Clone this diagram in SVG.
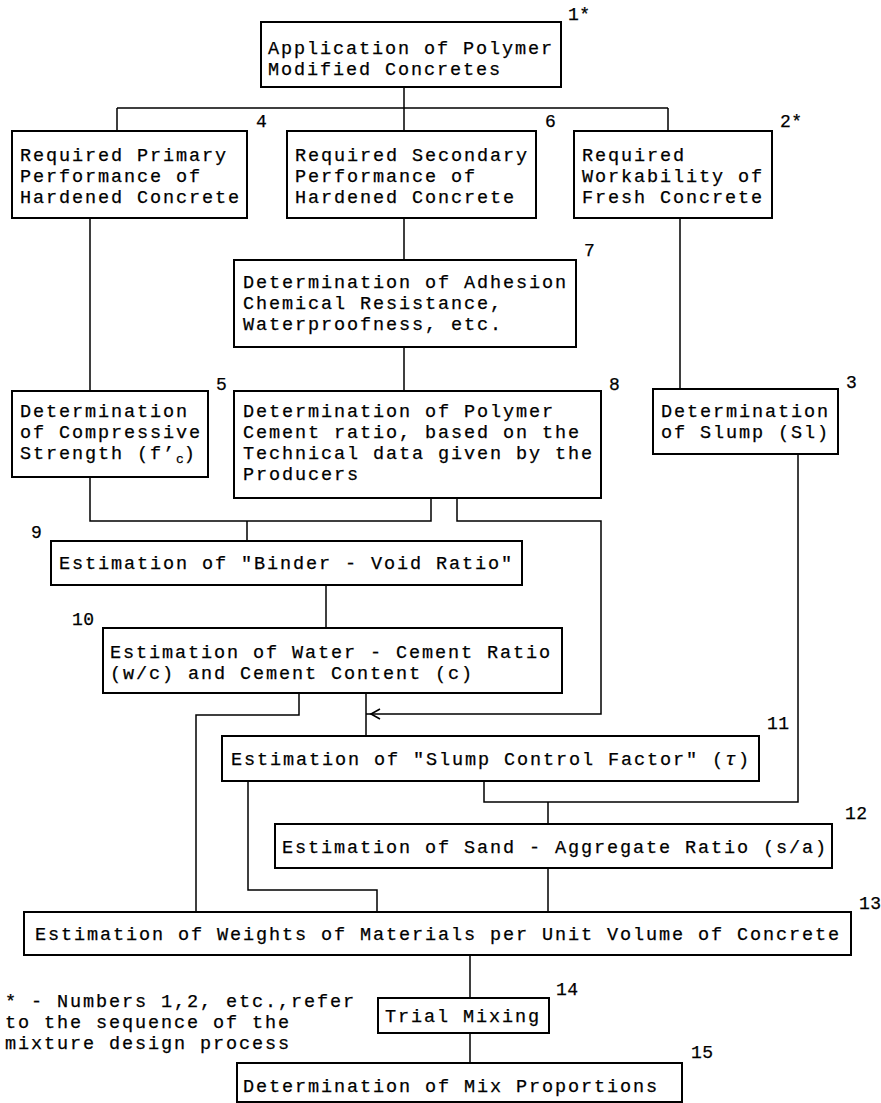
<svg xmlns="http://www.w3.org/2000/svg" width="881" height="1103" viewBox="0 0 881 1103">
<style>
.box{fill:#fff;stroke:#000;stroke-width:2}
.t{font-family:"Liberation Mono","Courier New",monospace;font-size:18.5px;letter-spacing:1.9px;fill:#000;stroke:#000;stroke-width:0.25}
.n{font-family:"Liberation Mono","Courier New",monospace;font-size:18px;letter-spacing:0.5px;fill:#000;stroke:#000;stroke-width:0.25}
.c{fill:none;stroke:#000;stroke-width:1.5}
</style>
<defs>
<marker id="chev" viewBox="0 0 12 12" refX="15" refY="6" markerWidth="12" markerHeight="12" markerUnits="userSpaceOnUse" orient="auto">
<path d="M1,1 L10,6 L1,11" fill="none" stroke="#000" stroke-width="1.6"/>
</marker>
</defs>
<rect width="881" height="1103" fill="#fff"/>
<g id="connectors">
<path class="c" d="M404,87V108M117,108H668M117,108V131M404,108V131M668,108V131"/>
<path class="c" d="M90,218V391M404,218V260M404,347V391M680,218V389"/>
<path class="c" d="M90,477V521H431V498M247,521V541"/>
<path class="c" d="M457,498V521H601V714H366" marker-end="url(#chev)"/>
<path class="c" d="M326,585V628"/>
<path class="c" d="M299,693V715H196V912M366,693V736"/>
<path class="c" d="M248,781V890H377V912"/>
<path class="c" d="M798,454V802H484V781M548,802V824"/>
<path class="c" d="M548,868V912M470,955V998M470,1033V1063"/>
</g>
<g id="n1"><rect class="box" x="261" y="22" width="300" height="65"/>
<text class="t" x="268" y="54">Application of Polymer</text><text class="t" x="268" y="75">Modified Concretes</text>
<text class="n" x="568" y="20">1*</text></g>
<g id="n4"><rect class="box" x="12" y="131" width="235" height="87"/>
<text class="t" x="20" y="161">Required Primary</text><text class="t" x="20" y="182">Performance of</text><text class="t" x="20" y="203">Hardened Concrete</text>
<text class="n" x="256" y="127">4</text></g>
<g id="n6"><rect class="box" x="287" y="131" width="249" height="87"/>
<text class="t" x="295" y="161">Required Secondary</text><text class="t" x="295" y="182">Performance of</text><text class="t" x="295" y="203">Hardened Concrete</text>
<text class="n" x="545" y="127">6</text></g>
<g id="n2"><rect class="box" x="574" y="131" width="198" height="87"/>
<text class="t" x="582" y="161">Required</text><text class="t" x="582" y="182">Workability of</text><text class="t" x="582" y="203">Fresh Concrete</text>
<text class="n" x="780" y="127">2*</text></g>
<g id="n7"><rect class="box" x="234" y="260" width="342" height="87"/>
<text class="t" x="243" y="288">Determination of Adhesion</text><text class="t" x="243" y="309">Chemical Resistance,</text><text class="t" x="243" y="330">Waterproofness, etc.</text>
<text class="n" x="584" y="256">7</text></g>
<g id="n5"><rect class="box" x="12" y="391" width="196" height="86"/>
<text class="t" x="20" y="417">Determination</text><text class="t" x="20" y="438">of Compressive</text><text class="t" x="20" y="459">Strength (f’<tspan dy="4" font-size="13" letter-spacing="0">c</tspan><tspan dy="-4">)</tspan></text>
<text class="n" x="216" y="390">5</text></g>
<g id="n8"><rect class="box" x="234" y="391" width="367" height="107"/>
<text class="t" x="243" y="417">Determination of Polymer</text><text class="t" x="243" y="438">Cement ratio, based on the</text><text class="t" x="243" y="459">Technical data given by the</text><text class="t" x="243" y="480">Producers</text>
<text class="n" x="609" y="390">8</text></g>
<g id="n3"><rect class="box" x="653" y="389" width="185" height="65"/>
<text class="t" x="661" y="417">Determination</text><text class="t" x="661" y="438">of Slump (Sl)</text>
<text class="n" x="846" y="388">3</text></g>
<g id="n9"><rect class="box" x="51" y="541" width="471" height="44"/>
<text class="t" x="59" y="569">Estimation of "Binder - Void Ratio"</text>
<text class="n" x="31" y="538">9</text></g>
<g id="n10"><rect class="box" x="103" y="628" width="459" height="65"/>
<text class="t" x="110" y="658">Estimation of Water - Cement Ratio</text><text class="t" x="110" y="679">(w/c) and Cement Content (c)</text>
<text class="n" x="72" y="625">10</text></g>
<g id="n11"><rect class="box" x="222" y="736" width="537" height="45"/>
<text class="t" x="231" y="765">Estimation of "Slump Control Factor" (<tspan font-style="italic">τ</tspan>)</text>
<text class="n" x="767" y="729">11</text></g>
<g id="n12"><rect class="box" x="275" y="824" width="557" height="44"/>
<text class="t" x="282" y="853">Estimation of Sand - Aggregate Ratio (s/a)</text>
<text class="n" x="845" y="819">12</text></g>
<g id="n13"><rect class="box" x="24" y="912" width="827" height="43"/>
<text class="t" x="35" y="940">Estimation of Weights of Materials per Unit Volume of Concrete</text>
<text class="n" x="859" y="909">13</text></g>
<g id="n14"><rect class="box" x="378" y="998" width="171" height="35"/>
<text class="t" x="385" y="1022">Trial Mixing</text>
<text class="n" x="556" y="995">14</text></g>
<g id="n15"><rect class="box" x="237" y="1063" width="445" height="39"/>
<text class="t" x="243" y="1092">Determination of Mix Proportions</text>
<text class="n" x="691" y="1058">15</text></g>
<g id="note">
<text class="t" x="5" y="1007">* - Numbers 1,2, etc.,refer</text>
<text class="t" x="5" y="1028">to the sequence of the</text>
<text class="t" x="5" y="1049">mixture design process</text>
</g>
</svg>
